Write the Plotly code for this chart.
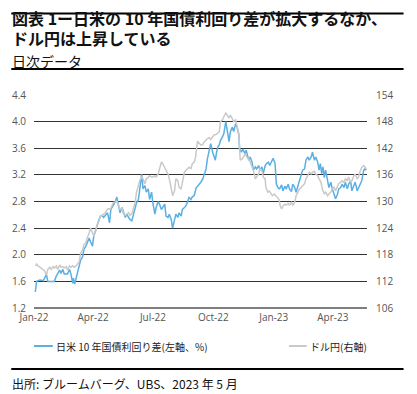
import pandas as pd
import plotly.graph_objects as go

# ---- data (days since 2022-01-01) ----
spread_day = [2, 4, 9, 14, 19, 21, 26, 31, 34, 39, 41, 44, 46, 51, 54, 56, 59, 60, 62, 65,
              69, 71, 74, 76, 79, 81, 84, 86, 89, 91, 94, 96, 99, 101, 104, 106, 109, 112, 115, 117,
              120, 124, 126, 129, 131, 134, 136, 139, 141, 144, 146, 149, 151, 154, 156, 159, 161, 164, 166, 169,
              171, 174, 176, 179, 181, 184, 186, 189, 191, 194, 196, 199, 201, 204, 206, 209, 211, 214, 216, 219,
              221, 224, 226, 229, 231, 234, 236, 239, 241, 244,
              247, 249, 252, 254, 257, 259, 262, 264, 267, 269, 272, 274, 276, 278, 280, 282, 284, 287, 289, 292,
              294, 297, 299, 302, 304, 307, 309, 312, 313, 316, 318, 321, 323, 324, 327, 329, 332, 334, 337, 339,
              342, 344, 347, 349, 352, 354, 357, 359, 362, 364, 367, 368, 369, 372, 374, 377, 379, 382, 384, 387,
              389, 392, 394, 397, 399, 402, 404, 407, 409, 412, 414, 417, 419, 422, 424, 427, 429, 432, 434, 436,
              438, 440, 442, 444, 447, 449, 452, 454, 457, 459, 462, 464, 467, 469, 472, 474, 477, 479, 482, 484,
              487, 489, 492, 494, 497, 499, 502, 504, 506]
spread_val = [1.44, 1.60, 1.62, 1.61, 1.70, 1.60, 1.60, 1.60, 1.68, 1.77, 1.72, 1.78, 1.71, 1.71, 1.78, 1.72, 1.57, 1.65, 1.56, 1.67,
              1.82, 1.92, 1.97, 2.08, 2.13, 2.18, 2.25, 2.20, 2.13, 2.28, 2.38, 2.46, 2.53, 2.58, 2.59, 2.56, 2.59, 2.63, 2.48, 2.68,
              2.73, 2.80, 2.87, 2.73, 2.63, 2.71, 2.66, 2.56, 2.61, 2.56, 2.53, 2.51, 2.59, 2.68, 2.78, 2.83, 2.99, 3.21, 2.99, 3.04,
              2.94, 2.99, 2.83, 2.94, 2.78, 2.61, 2.71, 2.80, 2.76, 2.68, 2.71, 2.76, 2.58, 2.56, 2.61, 2.53, 2.40, 2.53, 2.61, 2.56,
              2.63, 2.58, 2.68, 2.71, 2.73, 2.80, 2.86, 2.83, 2.87, 2.89,
              3.01, 3.03, 3.06, 3.09, 3.14, 3.19, 3.29, 3.44, 3.59, 3.67, 3.54, 3.49, 3.42, 3.54, 3.62, 3.65, 3.72, 3.77, 3.82, 4.00,
              3.90, 3.70, 3.85, 3.92, 3.85, 3.97, 3.92, 3.80, 3.59, 3.54, 3.59, 3.52, 3.57, 3.52, 3.42, 3.47, 3.39, 3.27, 3.32, 3.29,
              3.34, 3.27, 3.32, 3.22, 3.34, 3.37, 3.39, 3.34, 3.42, 3.45, 3.37, 3.19, 3.06, 3.00, 2.99, 3.05, 2.96, 3.03, 2.99, 3.06,
              2.99, 2.95, 3.06, 3.01, 2.94, 3.04, 3.11, 3.19, 3.27, 3.29, 3.42, 3.47, 3.42, 3.47, 3.54, 3.42, 3.47, 3.39, 3.27, 3.37,
              3.22, 3.32, 3.16, 3.27, 3.11, 3.01, 3.09, 2.99, 2.91, 2.84, 2.91, 2.99, 3.01, 3.06, 3.01, 3.09, 2.99, 3.06, 3.11, 2.96,
              3.04, 3.09, 2.96, 3.01, 3.06, 3.11, 3.27, 3.29, 3.27]

usdjpy_day = [2, 4, 6, 9, 11, 14, 16, 19, 21, 24, 26, 29, 31, 34, 36, 39, 41, 44, 46, 49,
              51, 54, 56, 59, 61, 64, 66, 69, 71, 74, 76, 79, 81, 84, 86, 89, 91, 94, 96, 99,
              101, 104, 106, 109, 111, 114, 116, 119, 121, 124, 126, 129, 131, 134, 136, 139, 141, 144, 146, 149,
              151, 154, 156, 159, 161, 164, 166, 169, 171, 174, 176, 179, 181, 184, 186, 189, 191, 194, 196, 199,
              201, 204, 206, 209, 211, 214, 216, 219, 221, 224, 226, 229, 231, 234, 236, 239, 241, 244, 246,
              249, 252, 254, 257, 259, 262, 264, 267, 269, 272, 274, 277, 279, 282, 284, 287, 289, 292, 294, 297,
              299, 302, 304, 307, 309, 312, 313, 314, 317, 319, 322, 324, 327, 329, 332, 334, 337, 339, 342, 344,
              347, 349, 352, 353, 356, 358, 361, 363, 366, 368, 370, 373, 375, 377, 379, 382, 384, 387, 389, 392,
              394, 397, 399, 402, 404, 407, 409, 412, 414, 417, 419, 422, 424, 427, 429, 432, 434, 437, 439, 442,
              444, 447, 449, 452, 454, 457, 459, 462, 464, 467, 469, 472, 474, 477, 479, 482, 484, 487, 489, 492,
              494, 497, 499, 502, 504, 506]
usdjpy_val = [115.5, 115.9, 115.5, 115.3, 115.0, 114.6, 114.4, 113.4, 114.7, 115.2, 114.7, 115.3, 115.0, 115.5, 114.7, 115.7, 115.2, 115.3, 115.0, 115.3,
              114.6, 115.5, 115.2, 115.5, 115.2, 115.5, 115.9, 116.5, 118.4, 119.1, 120.3, 120.7, 121.8, 122.9, 124.1, 122.9, 122.2, 123.3, 124.8, 125.6,
              126.7, 126.9, 127.1, 127.5, 128.2, 128.4, 128.2, 129.0, 129.8, 129.9, 130.1, 129.0, 128.2, 128.4, 127.3, 126.9, 127.1, 127.5, 126.9, 127.3,
              128.2, 129.8, 132.0, 133.6, 134.7, 135.5, 135.1, 134.0, 135.1, 135.5, 135.8, 135.5, 135.5, 135.8, 135.5, 136.2, 137.4, 138.9, 138.5, 137.7,
              137.0, 136.2, 135.1, 133.2, 131.3, 132.4, 135.1, 134.7, 133.2, 132.8, 134.3, 136.6, 137.0, 137.4, 137.7, 137.4, 138.5, 138.9, 140.0,
              143.6, 143.1, 142.7, 142.8, 143.4, 143.8, 144.2, 144.4, 144.0, 144.6, 145.0, 145.1, 145.3, 145.7, 148.0, 148.4, 149.1, 149.9, 149.5, 148.8,
              149.5, 148.4, 148.0, 148.4, 146.9, 145.0, 141.9, 139.3, 139.6, 140.0, 140.8, 140.0, 139.6, 138.9, 137.7, 137.0, 135.1, 135.5, 136.2, 137.4,
              137.0, 135.5, 135.1, 133.2, 132.1, 132.4, 131.7, 131.3, 131.7, 131.3, 130.9, 130.5, 129.0, 128.3, 129.0, 129.4, 129.2, 129.6, 129.2, 129.8,
              129.2, 129.8, 131.3, 132.1, 132.8, 133.2, 133.6, 134.0, 135.1, 135.8, 136.6, 136.2, 136.6, 136.8, 136.2, 135.8, 135.1, 134.3, 132.8, 131.7,
              132.1, 131.3, 131.7, 132.1, 132.8, 133.2, 132.4, 133.2, 134.0, 134.3, 134.7, 134.3, 135.1, 134.7, 135.5, 134.3, 134.7, 135.8, 136.2, 135.1,
              135.5, 137.0, 137.7, 138.1, 137.7, 137.4]

x_tick_dates = ["2022-01-01", "2022-04-01", "2022-07-01", "2022-10-01", "2023-01-01", "2023-04-01"]
x_tick_labels = ["Jan-22", "Apr-22", "Jul-22", "Oct-22", "Jan-23", "Apr-23"]
left_ticks = [1.2, 1.6, 2.0, 2.4, 2.8, 3.2, 3.6, 4.0, 4.4]
right_ticks = [106, 112, 118, 124, 130, 136, 142, 148, 154]

title_line1 = "図表 1ー日米の 10 年国債利回り差が拡大するなか、"
title_line2 = "ドル円は上昇している"
subtitle = "日次データ"
legend_spread = "日米 10 年国債利回り差(左軸、%)"
legend_usdjpy = "ドル円(右軸)"
source = "出所: ブルームバーグ、UBS、2023 年 5 月"

# ---- layout geometry ----
W, H = 417, 394
L, R, T, B = 30, 50, 95, 86
PW, PH = W - L - R, H - T - B


def px(x):
    return (x - L) / PW


def py(y):
    return (H - B - y) / PH


BLUE = "#5aafe3"
GRAY = "#c9c9c9"
CJK = "Noto Sans CJK JP"
TICKFONT = dict(family="Open Sans, Noto Sans", size=10, color="#555555")

base = pd.Timestamp("2022-01-01")
spread_dates = base + pd.to_timedelta(spread_day, unit="D")
usdjpy_dates = base + pd.to_timedelta(usdjpy_day, unit="D")

fig = go.Figure()
fig.add_trace(go.Scatter(x=usdjpy_dates, y=usdjpy_val, mode="lines", yaxis="y2",
                         line=dict(color=GRAY, width=1.5), name=legend_usdjpy, showlegend=False))
fig.add_trace(go.Scatter(x=spread_dates, y=spread_val, mode="lines", yaxis="y",
                         line=dict(color=BLUE, width=1.5), name=legend_spread, showlegend=False))

fig.update_layout(
    width=W, height=H,
    margin=dict(l=L, r=R, t=T, b=B, pad=0),
    paper_bgcolor="white", plot_bgcolor="white",
    showlegend=False,
    xaxis=dict(
        type="date", range=["2022-01-01", "2023-05-23"],
        tickvals=x_tick_dates, ticktext=x_tick_labels,
        showgrid=False, zeroline=False, showline=False,
        ticks="", tickfont=TICKFONT, ticklabelstandoff=2,
    ),
    yaxis=dict(
        range=[1.2, 4.4], tickvals=left_ticks, ticktext=[f"{v:.1f}" for v in left_ticks],
        showgrid=True, gridcolor="#333333", gridwidth=1,
        zeroline=False, showline=False, ticks="", tickfont=TICKFONT,
        ticklabelstandoff=7,
    ),
    yaxis2=dict(
        range=[106, 154], tickvals=right_ticks, ticktext=[str(v) for v in right_ticks],
        overlaying="y", side="right", showgrid=False, zeroline=False,
        showline=False, ticks="", tickfont=TICKFONT, ticklabelstandoff=8,
    ),
)

shapes = []
# rules
for y0, y1 in [(12.5, 14.5), (68, 70), (368, 370)]:
    shapes.append(dict(type="rect", xref="paper", yref="paper",
                       x0=px(7), x1=px(404), y0=py(y1), y1=py(y0),
                       fillcolor="black", line=dict(width=0), layer="above"))
# bottom axis line
shapes.append(dict(type="line", xref="paper", yref="paper", x0=0, x1=1, y0=0, y1=0,
                   line=dict(color="black", width=1.2)))
# legend samples
shapes.append(dict(type="line", xref="paper", yref="paper", x0=px(30), x1=px(49),
                   y0=py(346), y1=py(346), line=dict(color=BLUE, width=2)))
shapes.append(dict(type="line", xref="paper", yref="paper", x0=px(288), x1=px(306),
                   y0=py(346), y1=py(346), line=dict(color=GRAY, width=2)))
fig.update_layout(shapes=shapes)

ann = []
ann.append(dict(text=f"<b>{title_line1}</b>", x=px(6), y=py(17.5), xanchor="left", yanchor="middle",
                font=dict(family=CJK, size=16, color="#111111")))
ann.append(dict(text=f"<b>{title_line2}</b>", x=px(6), y=py(37.5), xanchor="left", yanchor="middle",
                font=dict(family=CJK, size=16, color="#111111")))
ann.append(dict(text=subtitle, x=px(6), y=py(60.5), xanchor="left", yanchor="middle",
                font=dict(family=CJK, size=14, color="#111111")))
ann.append(dict(text=legend_spread, x=px(50), y=py(346), xanchor="left", yanchor="middle",
                font=dict(family=CJK, size=10, color="#222222")))
ann.append(dict(text=legend_usdjpy, x=px(307), y=py(346), xanchor="left", yanchor="middle",
                font=dict(family=CJK, size=10, color="#222222")))
ann.append(dict(text=source, x=px(6), y=py(383), xanchor="left", yanchor="middle",
                font=dict(family=CJK, size=12, color="#111111")))
for a in ann:
    a.update(xref="paper", yref="paper", showarrow=False)
fig.update_layout(annotations=ann)

fig.write_html("out.html", config={"displayModeBar": False},
               post_script="document.body.style.margin='0';document.body.style.overflow='hidden';")
